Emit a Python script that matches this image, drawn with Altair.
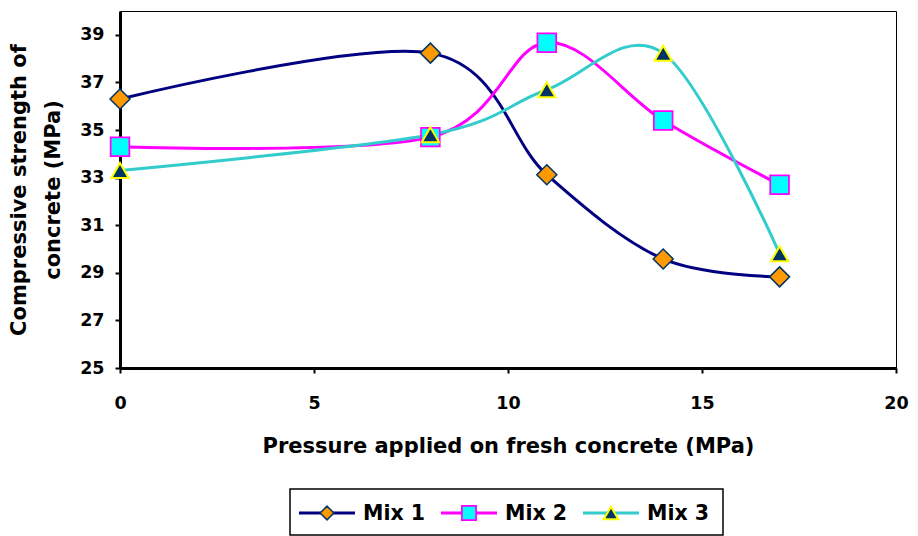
import altair as alt
import pandas as pd

# ---------------- data ----------------
pressure = [0, 8, 11, 14, 17]
mix1 = [36.3, 38.23, 33.12, 29.58, 28.83]
mix2 = [34.3, 34.7, 38.67, 35.4, 32.7]
mix3 = [33.3, 34.8, 36.69, 38.23, 29.8]
series = ["Mix 1", "Mix 2", "Mix 3"]
x_ticks = [0, 5, 10, 15, 20]
y_ticks = [25, 27, 29, 31, 33, 35, 37, 39]

# ---------------- styles ----------------
line_colors = ["#000080", "#FF00FF", "#33CCCC"]
marker_fills = ["#FF9900", "#00FFFF", "#003366"]
marker_strokes = ["#003366", "#FF00FF", "#FFFF00"]
marker_shapes = ["diamond", "square", "triangle-up"]
marker_sizes = [400, 300, 340]
legend_sizes = [190, 210, 230]
marker_stroke_widths = [1.5, 2, 2]
FONT = "DejaVu Sans"

rows = []
for name, vals in zip(series, [mix1, mix2, mix3]):
    for p, v in zip(pressure, vals):
        rows.append({"series": name, "pressure": p, "strength": v})
df = pd.DataFrame(rows)

x_enc = alt.X(
    "pressure:Q",
    scale=alt.Scale(domain=[0, 20], nice=False),
    axis=alt.Axis(values=x_ticks, title="Pressure applied on fresh concrete (MPa)",
                  labelPadding=21, titlePadding=24, format="d", labelFlush=False),
)
y_enc = alt.Y(
    "strength:Q",
    scale=alt.Scale(domain=[25, 40], nice=False, zero=False),
    axis=alt.Axis(values=y_ticks, title=["Compressive strength of", "concrete (MPa)"],
                  labelPadding=11, titlePadding=16, titleLineHeight=34, format="d",
                  labelFlush=False),
)

color_scale = alt.Scale(domain=series, range=line_colors)
fill_scale = alt.Scale(domain=series, range=marker_fills)
stroke_scale = alt.Scale(domain=series, range=marker_strokes)
shape_scale = alt.Scale(domain=series, range=marker_shapes)
sw_scale = alt.Scale(domain=series, range=marker_stroke_widths)

lines = alt.Chart(df).mark_line(interpolate="cardinal", strokeWidth=3).encode(
    x=x_enc, y=y_enc,
    color=alt.Color("series:N", scale=color_scale, legend=None),
)

points = alt.Chart(df).mark_point(filled=True, opacity=1).encode(
    x=x_enc, y=y_enc,
    shape=alt.Shape("series:N", scale=shape_scale, legend=None),
    fill=alt.Fill("series:N", scale=fill_scale, legend=None),
    stroke=alt.Stroke("series:N", scale=stroke_scale, legend=None),
    strokeWidth=alt.StrokeWidth("series:N", scale=sw_scale, legend=None),
    size=alt.Size("series:N", scale=alt.Scale(domain=series, range=marker_sizes), legend=None),
)

main = alt.layer(lines, points)

# ---------------- custom legend ----------------
leg_df = pd.DataFrame({"series": series, "idx": [0, 1, 2]})
leg_base = alt.Chart(leg_df).transform_calculate(
    lx="179 + datum.idx * 142",
    lx2="235 + datum.idx * 142",
    mx="207 + datum.idx * 142",
    tx="243 + datum.idx * 142",
)
LEG_Y = 502

box = alt.Chart(pd.DataFrame({"a": [0]})).mark_rect(
    fill="white", stroke="black", strokeWidth=1.5
).encode(x=alt.value(170), x2=alt.value(603), y=alt.value(478), y2=alt.value(524))

leg_lines = leg_base.mark_rule(strokeWidth=3).encode(
    x=alt.X("lx:Q", scale=None, axis=None),
    x2="lx2:Q",
    y=alt.value(LEG_Y),
    color=alt.Color("series:N", scale=color_scale, legend=None),
)
leg_points = leg_base.mark_point(filled=True, opacity=1).encode(
    x=alt.X("mx:Q", scale=None, axis=None),
    y=alt.value(LEG_Y),
    shape=alt.Shape("series:N", scale=shape_scale, legend=None),
    fill=alt.Fill("series:N", scale=fill_scale, legend=None),
    stroke=alt.Stroke("series:N", scale=stroke_scale, legend=None),
    strokeWidth=alt.StrokeWidth("series:N", scale=sw_scale, legend=None),
    size=alt.Size("series:N", scale=alt.Scale(domain=series, range=legend_sizes), legend=None),
)
leg_text = leg_base.mark_text(
    align="left", baseline="middle", font=FONT, fontSize=20.5, fontWeight="bold", color="black"
).encode(
    x=alt.X("tx:Q", scale=None, axis=None),
    y=alt.value(LEG_Y + 1),
    text="series:N",
)

legend = alt.layer(box, leg_lines, leg_points, leg_text)

chart = (
    alt.layer(main, legend)
    .resolve_scale(x="independent", size="independent")
    .properties(
        width=776,
        height=357,
        autosize=alt.AutoSizeParams(type="none"),
        padding={"left": 112, "top": 3, "right": 14, "bottom": 168},
    )
    .configure_view(stroke="black", strokeWidth=1)
    .configure_axis(
        grid=False,
        domainColor="black",
        domainWidth=3,
        tickColor="black",
        tickWidth=2,
        tickSize=5,
        labelFont=FONT,
        labelFontSize=17.5,
        labelFontWeight="bold",
        labelColor="black",
        titleFont=FONT,
        titleFontSize=21,
        titleFontWeight="bold",
        titleColor="black",
    )
)

chart.save("out.html", embed_options={"renderer": "svg", "actions": False})
